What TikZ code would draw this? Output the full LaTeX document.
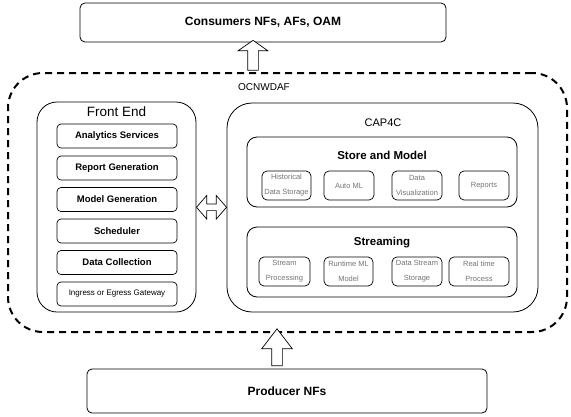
\documentclass[tikz,border=0pt]{standalone}
\usepackage{fontspec}
\setmainfont{Liberation Sans}
\usetikzlibrary{positioning,shapes.arrows,calc}

\begin{document}
\begin{tikzpicture}[x=1pt, y=-1pt,
    endbox/.style={draw, rounded corners=5pt, inner sep=0pt, line width=0.8pt, font=\fontsize{12}{14}\selectfont\bfseries},
    group/.style={draw, inner sep=0pt, line width=0.8pt},
    febox/.style={draw, rounded corners=4pt, inner sep=0pt, minimum width=120pt, minimum height=24pt, line width=0.7pt, font=\fontsize{9.5}{11}\selectfont\bfseries},
    item/.style={draw, rounded corners=5pt, inner sep=0pt, minimum height=29pt, line width=0.7pt, align=center, text=black!55, font=\fontsize{7.5}{15}\selectfont},
    title/.style={font=\fontsize{11.5}{13}\selectfont\bfseries},
    blk/.style={draw, fill=white, line width=0.7pt, inner sep=0pt, single arrow head indent=0pt},
]
  \useasboundingbox (0,0) rectangle (571,416);

  \node[endbox, minimum width=366pt, minimum height=39pt] (consumers) at (263, 22.5) {Consumers NFs, AFs, OAM};
  \node[endbox, minimum width=400pt, minimum height=44pt] (producer) at (287, 391) {Producer NFs};

  \node[group, dashed, dash pattern=on 7pt off 5pt, line width=2pt, rounded corners=35pt, minimum width=559pt, minimum height=259pt] (ocn) at (287.5, 202.5) {};
  \node[font=\fontsize{10}{12}\selectfont] (ocnlabel) at (264, 87) {OCNWDAF};

  \node[group, rounded corners=20pt, minimum width=159pt, minimum height=210pt] (fe) at (116.5, 207) {};
  \node[font=\fontsize{13.5}{15}\selectfont] (felabel) at (116.5, 112) {Front End};
  \node[febox] (fe1) at (117, 136) {Analytics Services};
  \node[febox] (fe2) at (117, 168) {Report Generation};
  \node[febox] (fe3) at (117, 199.5) {Model Generation};
  \node[febox] (fe4) at (117, 231) {Scheduler};
  \node[febox] (fe5) at (117, 262.5) {Data Collection};
  \node[febox, font=\fontsize{8}{10}\selectfont] (fe6) at (117, 294) {Ingress or Egress Gateway};

  \node[group, rounded corners=25pt, minimum width=311pt, minimum height=209pt] (cap) at (382.5, 207.5) {};
  \node[font=\fontsize{11}{13}\selectfont] (caplabel) at (383, 123) {CAP4C};

  \node[group, rounded corners=10pt, minimum width=270pt, minimum height=70pt] (store) at (382, 172) {};
  \node[title] (storelabel) at (382, 155) {Store and Model};
  \node[item, minimum width=49pt] (st1) at (286.5, 185.5) {Historical\\Data Storage};
  \node[item, minimum width=50pt] (st2) at (349, 185.5) {Auto ML};
  \node[item, minimum width=50pt] (st3) at (417, 185.5) {Data\\Visualization};
  \node[item, minimum width=50pt] (st4) at (484, 185.5) {Reports};

  \node[group, rounded corners=10pt, minimum width=270pt, minimum height=70pt] (stream) at (382, 262) {};
  \node[title] (streamlabel) at (382, 243) {Streaming};
  \node[item, minimum width=51pt] (sr1) at (284.5, 271.5) {Stream\\Processing};
  \node[item, minimum width=49pt] (sr2) at (348.5, 271.5) {Runtime ML\\Model};
  \node[item, minimum width=50pt] (sr3) at (417, 271.5) {Data Stream\\Storage};
  \node[item, minimum width=60pt] (sr4) at (479, 271.5) {Real time\\Process};

  \node[blk, single arrow, shape border rotate=90, minimum height=30pt, minimum width=29pt, single arrow head extend=9.5pt, single arrow tip angle=110, inner sep=5pt] (outarrow) at ($(consumers.south -| 253,0)!.5!(ocn.north -| 253,0)$) {};
  \node[blk, single arrow, shape border rotate=90, minimum height=37pt, minimum width=30pt, single arrow head extend=10pt, single arrow tip angle=75, inner sep=5pt] (inarrow) at ($(ocn.south -| 277,0)!.5!(producer.north -| 277,0)$) {};
  \node[blk, double arrow, minimum height=30pt, minimum width=23pt, double arrow head extend=8.5pt, double arrow tip angle=98, inner sep=3pt] (link) at ($(fe.east)!.5!(cap.west)$) {};
\end{tikzpicture}
\end{document}
